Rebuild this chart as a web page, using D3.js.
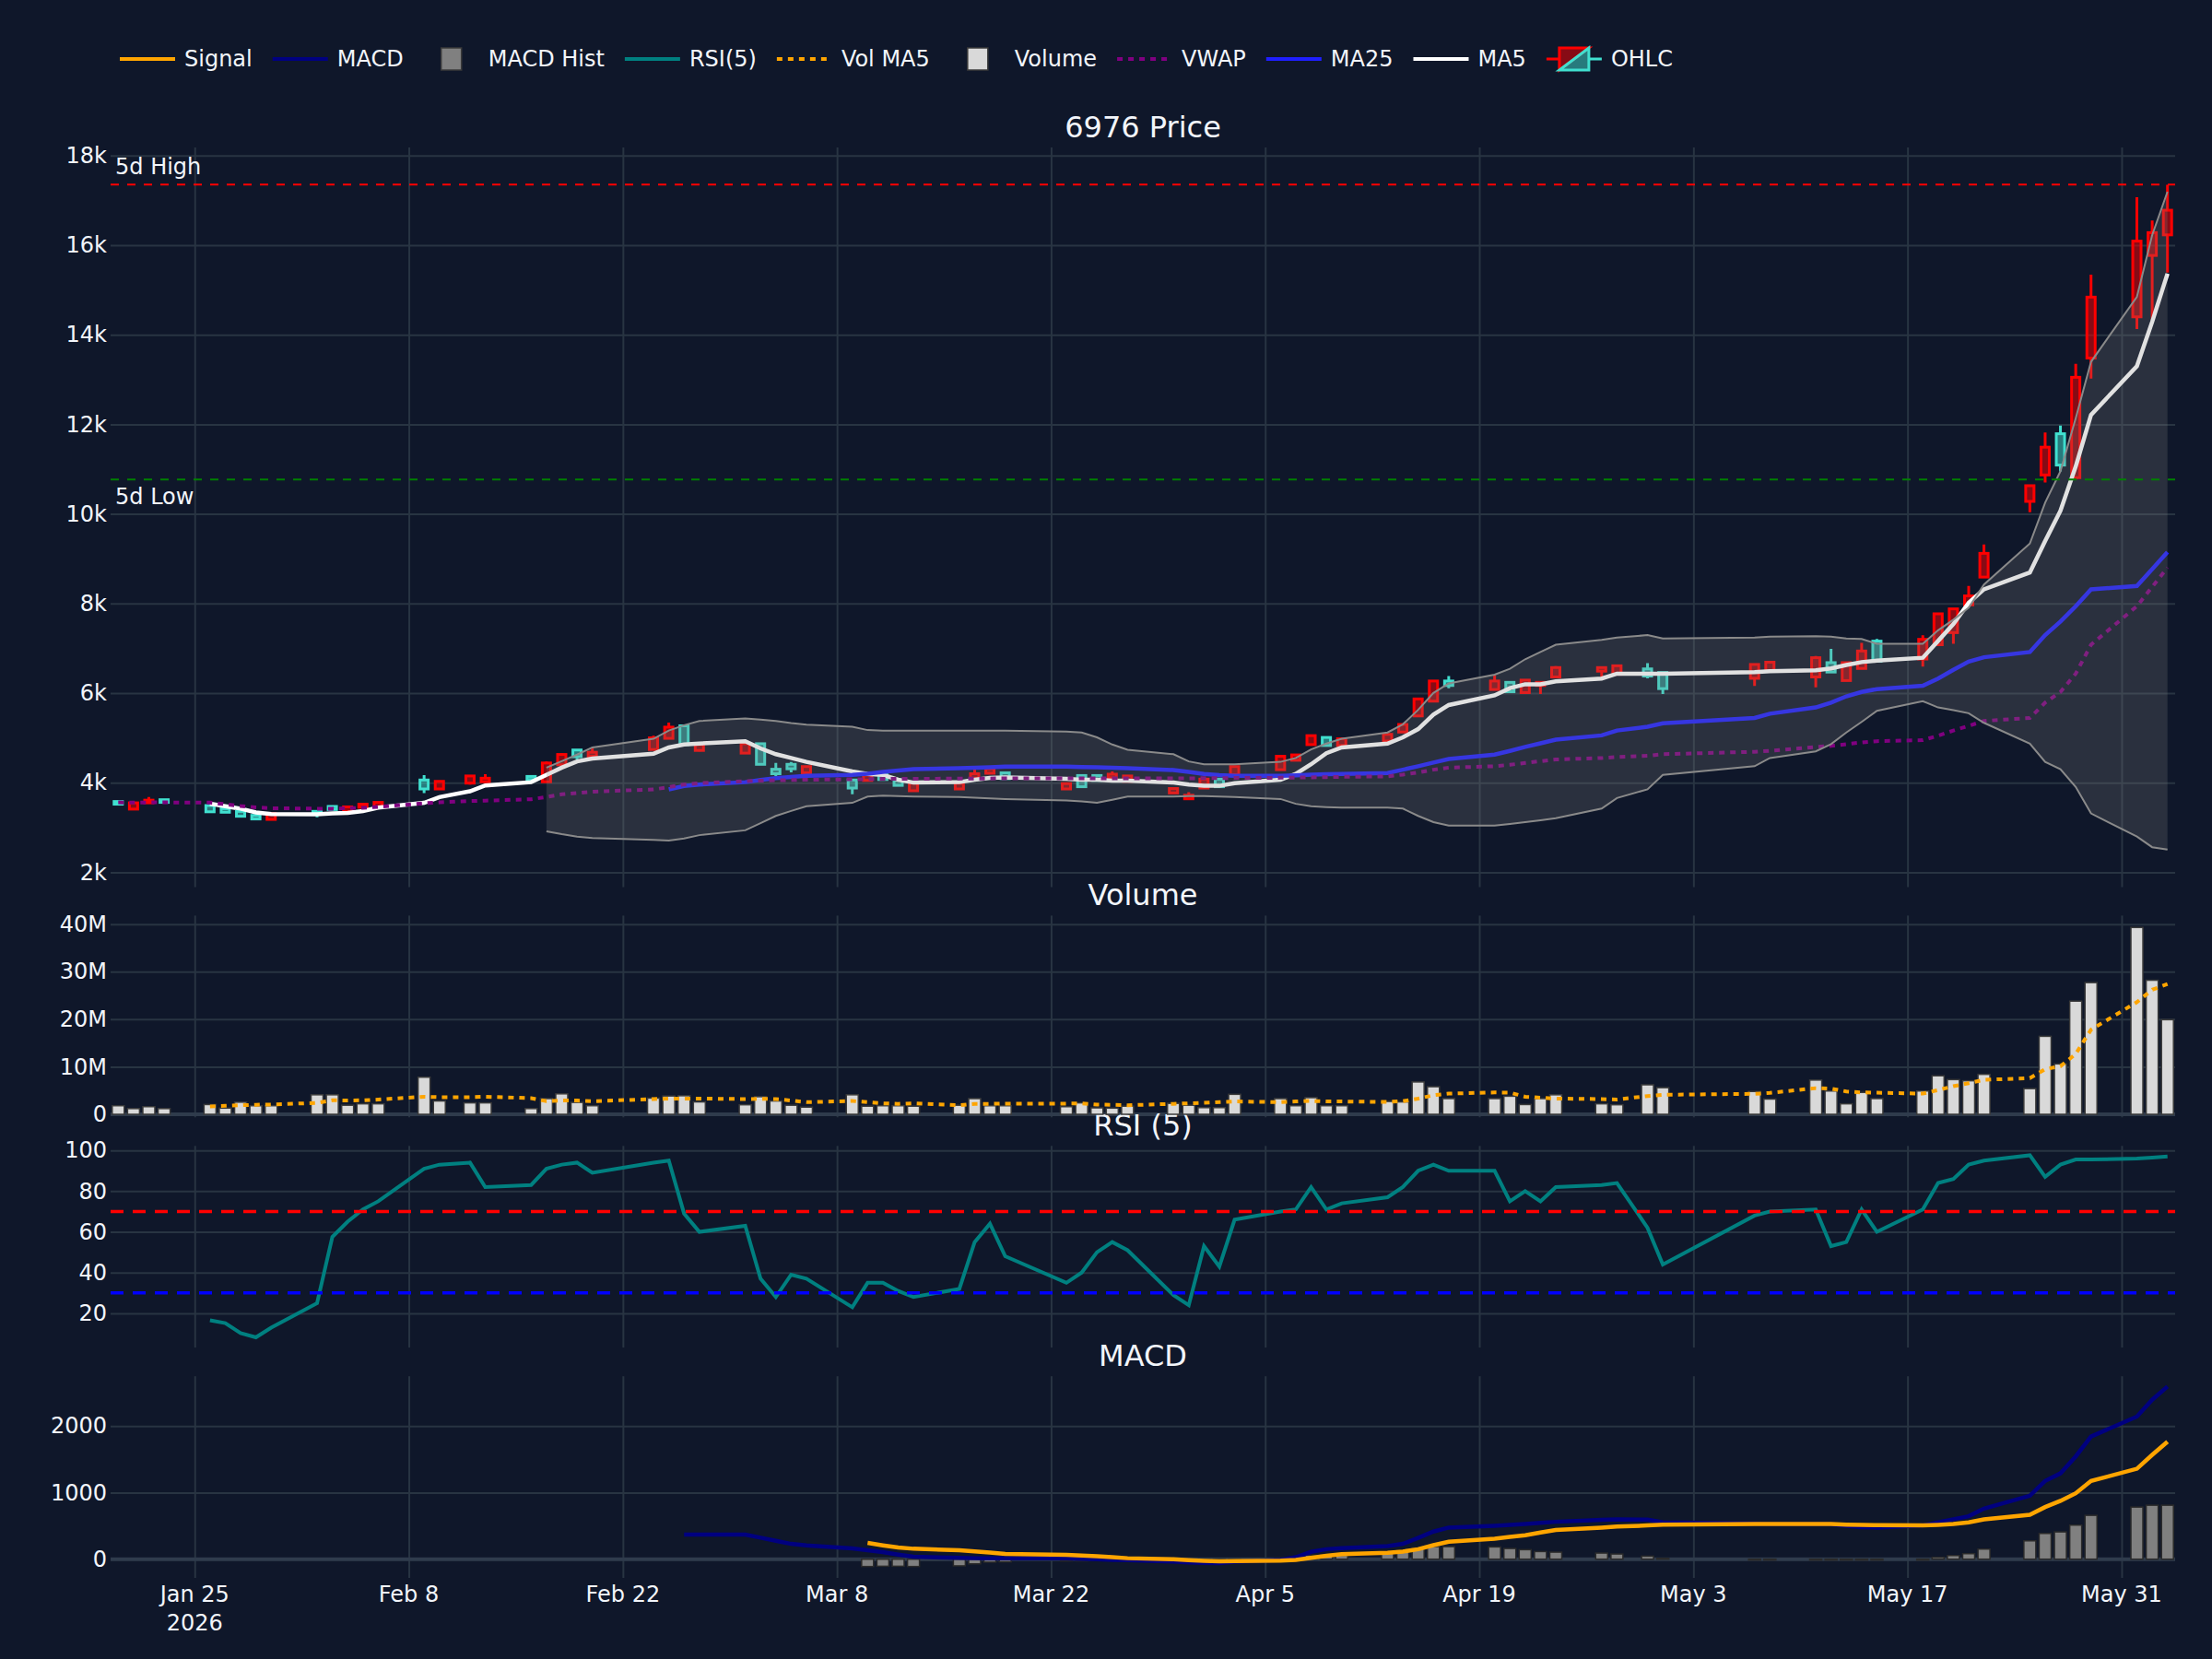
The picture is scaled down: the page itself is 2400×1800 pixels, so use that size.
<!DOCTYPE html>
<html lang="en">
<head>
<meta charset="UTF-8" />
<title>6976 Price</title>
<script src="https://d3js.org/d3.v7.min.js"></script>
<style>
  html, body { margin: 0; padding: 0; background: #0f172a; }
  svg { display: block; font-family: "DejaVu Sans", Verdana, sans-serif; }
</style>
</head>
<body>
<script>
// trading days
const dates = [
  "2026-01-20","2026-01-21","2026-01-22","2026-01-23",
  "2026-01-26","2026-01-27","2026-01-28","2026-01-29","2026-01-30",
  "2026-02-02","2026-02-03","2026-02-04","2026-02-05","2026-02-06",
  "2026-02-09","2026-02-10","2026-02-12","2026-02-13",
  "2026-02-16","2026-02-17","2026-02-18","2026-02-19","2026-02-20",
  "2026-02-24","2026-02-25","2026-02-26","2026-02-27",
  "2026-03-02","2026-03-03","2026-03-04","2026-03-05","2026-03-06",
  "2026-03-09","2026-03-10","2026-03-11","2026-03-12","2026-03-13",
  "2026-03-16","2026-03-17","2026-03-18","2026-03-19",
  "2026-03-23","2026-03-24","2026-03-25","2026-03-26","2026-03-27",
  "2026-03-30","2026-03-31","2026-04-01","2026-04-02","2026-04-03",
  "2026-04-06","2026-04-07","2026-04-08","2026-04-09","2026-04-10",
  "2026-04-13","2026-04-14","2026-04-15","2026-04-16","2026-04-17",
  "2026-04-20","2026-04-21","2026-04-22","2026-04-23","2026-04-24",
  "2026-04-27","2026-04-28","2026-04-30","2026-05-01",
  "2026-05-07","2026-05-08",
  "2026-05-11","2026-05-12","2026-05-13","2026-05-14","2026-05-15",
  "2026-05-18","2026-05-19","2026-05-20","2026-05-21","2026-05-22",
  "2026-05-25","2026-05-26","2026-05-27","2026-05-28","2026-05-29",
  "2026-06-01","2026-06-02","2026-06-03"
];

const open = [3580,3410,3550,3620, 3490,3420,3360,3270,3180, 3360,3470,3360,3450,3470,
  4060,3860,3990,4020, 4140,4020,4400,4730,4590, 4740,4990,5270,4720,
  4660,4870,4300,4410,4220, 4060,4050,4220,4060,3820, 3860,4100,4210,4220,
  3860,4160,4160,4110,4030, 3770,3640,3880,4080,4180, 4290,4500,4850,5010,4830,
  4930,5130,5490,5820,6270, 6080,6240,6010,6170,6360, 6490,6420,6540,6460,
  6330,6490, 6360,6680,6280,6550,7160, 6760,7080,7350,7970,8590,
  10280,10870,11790,10810,13480, 14400,15770,16230];
const high = [3600,3560,3680,3630, 3500,3430,3370,3280,3320, 3380,3490,3470,3530,3570,
  4170,4040,4160,4190, 4150,4470,4650,4740,4770, 5050,5340,5300,4860,
  4880,4880,4440,4460,4370, 4080,4180,4230,4070,4000, 4000,4290,4320,4230,
  3990,4170,4170,4250,4160, 3880,3790,4090,4100,4370, 4600,4630,5060,5020,4990,
  5090,5310,5880,6280,6380, 6400,6250,6300,6250,6600, 6580,6620,6670,6470,
  6650,6700, 6830,6990,6690,7120,7210, 7290,7780,7890,8390,9320,
  10640,11820,11970,13350,15340, 17070,16550,17350];
const low = [3510,3400,3540,3550, 3340,3330,3240,3170,3170, 3230,3390,3350,3440,3460,
  3770,3850,3960,4000, 4060,4010,4390,4520,4580, 4730,4980,4840,4700,
  4650,4400,4150,4230,4210, 3740,4040,4060,3930,3810, 3850,4090,4200,4080,
  3850,3900,4040,4100,4020, 3760,3630,3870,3880,4170, 4280,4490,4830,4820,4820,
  4920,5120,5480,5810,6110, 6070,6020,6000,5980,6350, 6330,6410,6330,5980,
  6160,6480, 6130,6460,6270,6540,6700, 6590,7070,7100,7960,8580,
  10040,10700,10950,10770,13020, 14130,14340,15390];
const close = [3520,3550,3610,3560, 3350,3340,3250,3190,3310, 3300,3400,3460,3520,3560,
  3860,4030,4150,4100, 4070,4440,4630,4580,4680, 5000,5240,4850,4850,
  4870,4410,4200,4310,4360, 3880,4170,4070,3940,3990, 3990,4200,4310,4090,
  3980,3910,4050,4190,4150, 3870,3720,4080,3910,4360, 4590,4620,5050,4830,4980,
  5080,5300,5870,6270,6170, 6270,6030,6290,6240,6570, 6570,6610,6380,6100,
  6640,6690, 6790,6470,6680,6940,6710, 7200,7770,7880,8170,9120,
  10630,11490,11090,13050,14840, 16090,16280,16780];

const ma5 = [null,null,null,null, 3530,3474,3420,3335,3302, 3292,3313,3324,3367,3442,
  3550,3679,3808,3937, 4012,4174,4336,4475,4540, 4647,4787,4852,4873,
  4927,4766,4637,4551,4465, 4250,4196,4174,4066,4002, 4012,4066,4109,4120,
  4088,4066,4066,4045,4045, 4002,3959,3930,3930,3990, 4066,4196,4411,4658,4787,
  4873,5013,5196,5519,5734, 5950,6111,6197,6197,6262, 6326,6434,6434,6434,
  6466,6487, 6510,6550,6627,6692,6724, 6789,7165,7542,8015,8317,
  8693,9393,10071,11061,12212, 13299,14289,15365];
const ma25 = [null,null,null,null, null,null,null,null,null, null,null,null,null,null,
  null,null,null,null, null,null,null,null,null, null,3851,3926,3959,
  4012,4060,4100,4130,4152, 4174,4200,4240,4270,4303, 4325,4335,4345,4357,
  4357,4350,4345,4335,4325, 4282,4240,4196,4170,4152, 4152,4165,4180,4190,4196,
  4217,4290,4368,4450,4530, 4626,4710,4798,4880,4960, 5056,5164,5250,5325,
  5444,5540, 5680,5788,5928,6025,6089, 6165,6326,6520,6703,6800,
  6918,7295,7596,7940,8317, 8392,8769,9146];
const vwap = [3560,3555,3560,3560, 3555,3520,3480,3450,3430, 3420,3420,3430,3440,3460,
  3540,3560,3590,3600, 3630,3680,3740,3770,3800, 3850,3900,3960,3990,
  4034,4045,4055,4060,4066, 4075,4080,4085,4088,4088, 4090,4092,4094,4095,
  4095,4096,4097,4098,4098, 4098,4098,4100,4100,4105, 4110,4115,4120,4125,4130,
  4141,4180,4228,4290,4336, 4368,4400,4440,4480,4518, 4550,4572,4600,4636,
  4690,4712, 4799,4820,4860,4900,4927, 4949,5050,5164,5270,5379,
  5444,5788,6025,6434,7079, 7940,8371,8801];
const bbUpper = [null,null,null,null, null,null,null,null,null, null,null,null,null,null,
  null,null,null,null, null,4336,4480,4627,4787, 4981,5164,5282,5379,
  5433,5410,5379,5330,5293, 5250,5175,5164,5164,5164, 5164,5164,5164,5164,
  5143,5121,5013,4852,4734, 4637,4475,4411,4411,4411, 4465,4551,4744,4873,4981,
  5121,5304,5627,6003,6218, 6412,6541,6756,6920,7079, 7187,7240,7294,7219,
  7240,7262, 7273,7262,7219,7208,7100, 7100,7402,7639,7908,8424,
  9339,10253,10953,12137,13396, 14848,16226,17194];
const bbLower = [null,null,null,null, null,null,null,null,null, null,null,null,null,null,
  null,null,null,null, null,2915,2850,2797,2765, 2722,2710,2754,2829,
  2937,3098,3259,3370,3474, 3550,3690,3711,3700,3690, 3679,3665,3650,3636,
  3604,3580,3550,3620,3690, 3690,3700,3700,3690,3680, 3636,3528,3474,3455,3442,
  3442,3421,3259,3119,3044, 3044,3080,3119,3160,3206, 3421,3658,3851,4174,
  4368,4551, 4700,4860,5121,5358,5605, 5820,5680,5620,5551,5336,
  4873,4465,4303,3905,3313, 2797,2560,2507];
const fiveDayHigh = 17355;
const fiveDayLow = 10770;

// volume in millions of shares
const volume = [1.8,1.2,1.6,1.2, 2.05,1.3,2.55,1.8,1.8, 4.1,4.1,1.9,2.2,2.2,
  7.8,2.8,2.4,2.4, 1.2,3.3,4.3,2.5,1.8, 3.4,3.85,3.9,2.6,
  2.0,3.7,2.8,1.9,1.5, 4.1,1.7,1.8,1.8,1.7, 1.9,3.3,1.8,1.8,
  1.6,2.4,1.35,1.3,1.7, 2.3,1.9,1.4,1.4,4.2, 3.3,1.8,3.5,1.8,1.8,
  2.7,2.6,6.8,5.8,3.3, 3.3,3.8,2.05,3.3,4.1, 2.2,2.0,6.2,5.6,
  4.8,3.2, 7.2,4.9,2.2,4.6,3.3, 4.9,8.1,7.3,7.05,8.4,
  5.4,16.4,10.6,23.8,27.7, 39.3,28.2,19.9];
const volMA5 = [null,null,null,null, 1.67,1.8,1.9,2.0,2.05, 2.4,2.95,2.9,2.95,3.1,
  3.7,3.6,3.6,3.7, 3.4,2.75,2.9,2.9,2.75, 3.2,3.3,3.3,3.3,
  3.2,3.25,3.2,2.9,2.55, 2.8,2.55,2.3,2.2,2.3, 1.9,2.2,2.2,2.25,
  2.25,2.3,2.05,2.0,1.9, 2.2,2.3,2.4,2.55,2.7, 2.55,2.7,2.8,2.7,2.7,
  2.6,2.75,3.3,4.0,4.35, 4.6,4.55,3.7,3.5,3.3, 3.2,3.1,3.85,4.1,
  4.3,4.5, 5.5,5.4,4.8,4.6,4.55, 4.35,5.1,5.9,6.55,7.25,
  7.6,9.5,10.1,12.7,17.8, 23.6,26.2,27.4];

const rsi = [null,null,null,null, 16.6,15.2,10.3,8.2,13, 25,57.5,65,71,75,
  91,93,94,82, 83,91,93,94,89, 94,95,69,60,
  63,37,28,39,37, 23,35,35,31,28, 32,55,64,48,
  35,40,50,55,51, 29,24,53,43,66, 70,71,82,71,74,
  77,82,90,93,90, 90,75,80,75,82, 83,84,62,44,
  68,70, 71,53,55,71,60, 71,84,86,93,95,
  97.6,87,93,95.5,95.5, 96,96.5,97];
const rsiLevels = [70, 30];

const macd = [null,null,null,null, null,null,null,null,null, null,null,null,null,null,
  null,null,null,null, null,null,null,null,null, null,null,369,369,
  369,323,276,230,207, 161,134,106,69,37, 20,15,14,14,
  12,5,0,-10,-14, -35,-50,-55,-60,-40, -10,30,110,150,165,
  198,230,320,415,475, 502,515,530,545,562, 590,599,594,553,
  535,530, 528,525,500,480,475, 507,553,600,645,760,
  954,1175,1290,1544,1843, 2143,2396,2594];
const signal = [null,null,null,null, null,null,null,null,null, null,null,null,null,null,
  null,null,null,null, null,null,null,null,null, null,null,null,null,
  null,null,null,null,null, null,244,207,175,157, 135,118,100,80,
  65,55,45,30,15, 0,-15,-25,-30,-28, -22,-10,20,50,75,
  97,115,150,210,263, 309,335,360,400,438, 475,490,507,520,
  530,530, 530,530,520,515,512, 507,516,530,553,599,
  668,783,876,991,1175, 1359,1567,1765];
const hist = [null,null,null,null, null,null,null,null,null, null,null,null,null,null,
  null,null,null,null, null,null,null,null,null, null,null,null,null,
  null,null,null,null,null, null,-110,-106,-106,-110, -100,-70,-45,-40,
  -25,-25,-10,-5,-5, -5,-8,-5,-5,-10, 10,20,60,65,60,
  106,134,171,189,189, 184,161,143,115,106, 92,78,46,14,
  -3,-3, -2,-3,-8,-5,-5, 0,28,55,83,152,
  276,387,410,512,659, 783,811,811];

// axis ticks and titles
const xTicks = ["2026-01-25","2026-02-08","2026-02-22","2026-03-08","2026-03-22",
  "2026-04-05","2026-04-19","2026-05-03","2026-05-17","2026-05-31"];
const priceTicks = [2000,4000,6000,8000,10000,12000,14000,16000,18000];
const volTicks = [0,10,20,30,40];
const rsiTicks = [20,40,60,80,100];
const macdTicks = [0,1000,2000];
const panelTitles = ["6976 Price","Volume","RSI (5)","MACD"];

// ---------- layout ----------
const W = 2400, H = 1800;
const left = 120, right = 2360;
const bg = '#0f172a', gridCol = '#283442', zeroCol = '#2f3b4c', txtCol = '#f2f5fa';
const upCol = '#ff0000', downCol = '#40e0d0';
const panels = [
  { top: 160, bottom: 962.4 },
  { top: 993.4, bottom: 1212.3 },
  { top: 1243.3, bottom: 1462.1 },
  { top: 1493.2, bottom: 1712 }
];

const parse = d3.utcParse('%Y-%m-%d');
const days = dates.map(parse);
const rows = days.map((d, i) => ({
  date: d, o: open[i], h: high[i], l: low[i], c: close[i], v: volume[i], hist: hist[i]
}));

const x = d3.scaleUtc()
  .domain([new Date(Date.UTC(2026, 0, 19, 12)), new Date(Date.UTC(2026, 5, 3, 12))])
  .range([left, right]);
const yPrice = d3.scaleLinear().domain([1671, 18181]).range([panels[0].bottom, panels[0].top]);
const yVol = d3.scaleLinear().domain([-0.64, 41.8]).range([panels[1].bottom, panels[1].top]);
const yRsi = d3.scaleLinear().domain([3.2, 102.2]).range([panels[2].bottom, panels[2].top]);
const yMacd = d3.scaleLinear().domain([-281, 2749]).range([panels[3].bottom, panels[3].top]);

const svg = d3.select('body').append('svg')
  .attr('width', W)
  .attr('height', H);

svg.append('rect').attr('width', W).attr('height', H).attr('fill', bg);

// clip per panel
panels.forEach((p, i) => {
  svg.append('clipPath').attr('id', 'clip' + i)
    .append('rect')
    .attr('x', left).attr('y', p.top)
    .attr('width', right - left).attr('height', p.bottom - p.top);
});

// grid + y axis for each panel
function drawGrid(p, yScale, ticks, fmt) {
  const gx = svg.append('g')
    .attr('transform', `translate(0,${p.bottom})`)
    .call(d3.axisBottom(x).tickValues(xTicks.map(parse)).tickSize(-(p.bottom - p.top)).tickFormat(''));
  gx.select('.domain').remove();
  gx.selectAll('line').attr('stroke', gridCol).attr('stroke-width', 2);

  const gy = svg.append('g')
    .attr('transform', `translate(${left},0)`)
    .call(d3.axisLeft(yScale).tickValues(ticks).tickFormat(fmt).tickSize(-(right - left)).tickPadding(4));
  gy.attr('font-family', null).attr('font-size', 24);
  gy.select('.domain').remove();
  gy.selectAll('line').attr('stroke', gridCol).attr('stroke-width', 2);
  gy.selectAll('text').attr('fill', txtCol);
}

drawGrid(panels[0], yPrice, priceTicks, d => (d / 1000) + 'k');
drawGrid(panels[1], yVol, volTicks, d => d === 0 ? '0' : d + 'M');
drawGrid(panels[2], yRsi, rsiTicks, d => d);
drawGrid(panels[3], yMacd, macdTicks, d => d);

// zero lines
[yVol, yMacd].forEach(ys => {
  svg.append('line')
    .attr('x1', left).attr('x2', right)
    .attr('y1', ys(0)).attr('y2', ys(0))
    .attr('stroke', zeroCol).attr('stroke-width', 4);
});

// x tick labels under the last panel
const fmtTick = d3.utcFormat('%b %-d');
const xl = svg.append('g').attr('font-size', 24).attr('fill', txtCol).attr('text-anchor', 'middle');
xTicks.map(parse).forEach((d, i) => {
  const t = xl.append('text').attr('x', x(d)).attr('y', 1738);
  t.append('tspan').attr('x', x(d)).text(fmtTick(d));
  if (i === 0) t.append('tspan').attr('x', x(d)).attr('dy', 31).text(d.getUTCFullYear());
});

// subplot titles
panelTitles.forEach((t, i) => {
  svg.append('text')
    .attr('x', (left + right) / 2)
    .attr('y', panels[i].top - 11)
    .attr('text-anchor', 'middle')
    .attr('font-size', 32)
    .attr('fill', txtCol)
    .text(t);
});

const lineFor = (ys, arr) => d3.line()
  .defined(i => arr[i] != null)
  .x(i => x(days[i]))
  .y(i => ys(arr[i]));
const idx = d3.range(days.length);

// ---------- price panel ----------
const gp = svg.append('g').attr('clip-path', 'url(#clip0)');

// candles
const cw = 9;
const candle = gp.selectAll('g.candle').data(rows).enter().append('g')
  .attr('class', 'candle');
candle.append('path')
  .attr('d', d => {
    const cx = x(d.date);
    return `M${cx},${yPrice(d.h)}V${yPrice(Math.max(d.o, d.c))}M${cx},${yPrice(Math.min(d.o, d.c))}V${yPrice(d.l)}`;
  })
  .attr('stroke', d => d.c >= d.o ? upCol : downCol)
  .attr('stroke-width', 3)
  .attr('fill', 'none');
candle.append('rect')
  .attr('x', d => x(d.date) - cw / 2)
  .attr('y', d => yPrice(Math.max(d.o, d.c)))
  .attr('width', cw)
  .attr('height', d => Math.max(1, yPrice(Math.min(d.o, d.c)) - yPrice(Math.max(d.o, d.c))))
  .attr('fill', d => d.c >= d.o ? 'rgba(255,0,0,0.5)' : 'rgba(64,224,208,0.5)')
  .attr('stroke', d => d.c >= d.o ? upCol : downCol)
  .attr('stroke-width', 3);

gp.append('path').datum(idx).attr('d', lineFor(yPrice, ma5))
  .attr('fill', 'none').attr('stroke', '#ffffff').attr('stroke-width', 4.5);
gp.append('path').datum(idx).attr('d', lineFor(yPrice, ma25))
  .attr('fill', 'none').attr('stroke', '#1f1fff').attr('stroke-width', 4.5);
gp.append('path').datum(idx).attr('d', lineFor(yPrice, vwap))
  .attr('fill', 'none').attr('stroke', '#800080').attr('stroke-width', 4)
  .attr('stroke-dasharray', '6,6');

// bollinger band
const bbIdx = idx.filter(i => bbUpper[i] != null);
gp.append('path').datum(bbIdx)
  .attr('d', d3.area().x(i => x(days[i])).y0(i => yPrice(bbLower[i])).y1(i => yPrice(bbUpper[i])))
  .attr('fill', 'rgba(128,128,128,0.24)');
[bbUpper, bbLower].forEach(arr => {
  gp.append('path').datum(idx).attr('d', lineFor(yPrice, arr))
    .attr('fill', 'none').attr('stroke', '#8a8a8a').attr('stroke-width', 2);
});

// 5-day high / low
[[fiveDayHigh, '#ff0000', '5d High', -11], [fiveDayLow, '#008000', '5d Low', 27]].forEach(([v, c, label, dy]) => {
  gp.append('line')
    .attr('x1', left).attr('x2', right)
    .attr('y1', yPrice(v)).attr('y2', yPrice(v))
    .attr('stroke', c).attr('stroke-width', 2).attr('stroke-dasharray', '9,9');
  svg.append('text')
    .attr('x', left + 5).attr('y', yPrice(v) + dy)
    .attr('font-size', 24).attr('fill', txtCol)
    .text(label);
});

// ---------- volume panel ----------
const gv = svg.append('g').attr('clip-path', 'url(#clip1)');
const bw = 13;
gv.selectAll('rect').data(rows).enter().append('rect')
  .attr('x', d => x(d.date) - bw / 2)
  .attr('y', d => yVol(d.v))
  .attr('width', bw)
  .attr('height', d => yVol(0) - yVol(d.v))
  .attr('fill', '#d9d9d9')
  .attr('stroke', '#3a3a3a')
  .attr('stroke-width', 1.5);
gv.append('path').datum(idx).attr('d', lineFor(yVol, volMA5))
  .attr('fill', 'none').attr('stroke', '#ffa500').attr('stroke-width', 4)
  .attr('stroke-dasharray', '6,6');

// ---------- RSI panel ----------
const gr = svg.append('g').attr('clip-path', 'url(#clip2)');
gr.append('path').datum(idx).attr('d', lineFor(yRsi, rsi))
  .attr('fill', 'none').attr('stroke', '#008080').attr('stroke-width', 4);
rsiLevels.forEach((lv, i) => {
  gr.append('line')
    .attr('x1', left).attr('x2', right)
    .attr('y1', yRsi(lv)).attr('y2', yRsi(lv))
    .attr('stroke', i === 0 ? '#ff0000' : '#0000ff')
    .attr('stroke-width', 3.5)
    .attr('stroke-dasharray', '14,10');
});

// ---------- MACD panel ----------
const gm = svg.append('g').attr('clip-path', 'url(#clip3)');
gm.selectAll('rect').data(rows.filter(d => d.hist != null)).enter().append('rect')
  .attr('x', d => x(d.date) - bw / 2)
  .attr('y', d => yMacd(Math.max(0, d.hist)))
  .attr('width', bw)
  .attr('height', d => Math.max(1, Math.abs(yMacd(d.hist) - yMacd(0))))
  .attr('fill', '#808080')
  .attr('stroke', '#2a2a2a')
  .attr('stroke-width', 1.5);
gm.append('path').datum(idx).attr('d', lineFor(yMacd, macd))
  .attr('fill', 'none').attr('stroke', '#000080').attr('stroke-width', 4.5);
gm.append('path').datum(idx).attr('d', lineFor(yMacd, signal))
  .attr('fill', 'none').attr('stroke', '#ffa500').attr('stroke-width', 4.5);

// ---------- legend ----------
const legendItems = [
  { name: 'Signal', type: 'line', color: '#ffa500' },
  { name: 'MACD', type: 'line', color: '#000080' },
  { name: 'MACD Hist', type: 'bar', color: '#808080' },
  { name: 'RSI(5)', type: 'line', color: '#008080' },
  { name: 'Vol MA5', type: 'dot', color: '#ffa500' },
  { name: 'Volume', type: 'bar', color: '#d9d9d9' },
  { name: 'VWAP', type: 'dot', color: '#800080' },
  { name: 'MA25', type: 'line', color: '#1f1fff' },
  { name: 'MA5', type: 'line', color: '#ffffff' },
  { name: 'OHLC', type: 'candle' }
];
const ly = 64;
let lx = 120;
const lg = svg.append('g');
legendItems.forEach(it => {
  const g = lg.append('g').attr('transform', `translate(${lx},${ly})`);
  if (it.type === 'line' || it.type === 'dot') {
    g.append('line').attr('x1', 10).attr('x2', 70).attr('y1', 0).attr('y2', 0)
      .attr('stroke', it.color).attr('stroke-width', 4)
      .attr('stroke-dasharray', it.type === 'dot' ? '6,6' : null);
  } else if (it.type === 'bar') {
    g.append('rect').attr('x', 29).attr('y', -12).attr('width', 22).attr('height', 24)
      .attr('fill', it.color).attr('stroke', '#3a3a3a').attr('stroke-width', 1.5);
  } else {
    const s = 2;
    g.append('path')
      .attr('d', `M${40 - 15 * s},0H${40 - 8 * s}M${40 - 8 * s},${6 * s}V${-6 * s}H${40 + 8 * s}Z`)
      .attr('fill', 'rgba(255,0,0,0.5)').attr('stroke', upCol).attr('stroke-width', 3);
    g.append('path')
      .attr('d', `M${40 + 15 * s},0H${40 + 8 * s}M${40 + 8 * s},${-6 * s}V${6 * s}H${40 - 8 * s}Z`)
      .attr('fill', 'rgba(64,224,208,0.5)').attr('stroke', downCol).attr('stroke-width', 3);
  }
  const t = g.append('text').attr('x', 80).attr('y', 8)
    .attr('font-size', 24).attr('fill', txtCol).text(it.name);
  lx += 80 + t.node().getComputedTextLength() + 12;
});
</script>
</body>
</html>
